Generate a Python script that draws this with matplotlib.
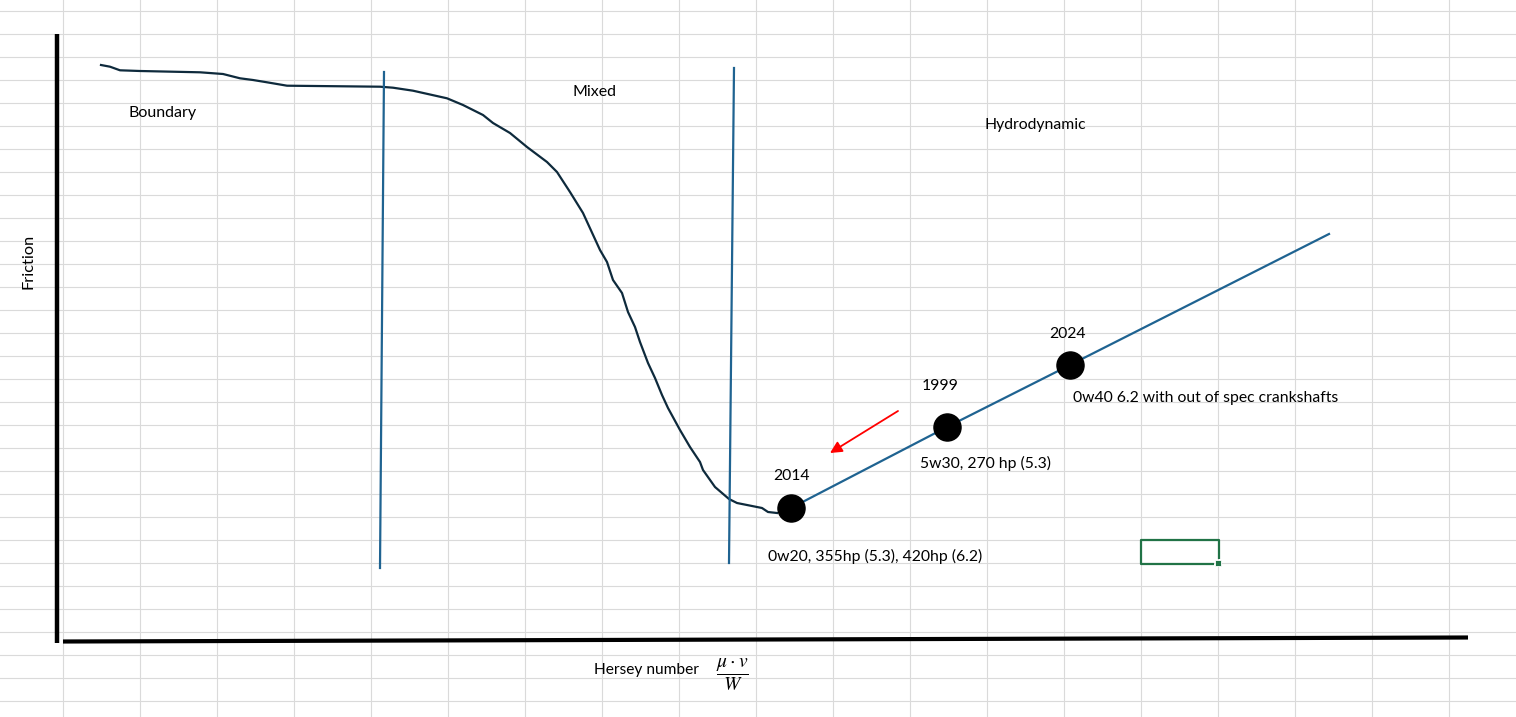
import numpy as np
import matplotlib
matplotlib.use("Agg")
import matplotlib.pyplot as plt
from matplotlib.patches import Rectangle, FancyArrowPatch

plt.rcParams['font.family'] = ['Lato', 'DejaVu Sans']
plt.rcParams['mathtext.fontset'] = 'stix'

# ---- data (in sheet pixel units; y grows downward) ----
# Stribeck-style friction curve
curve_x = [101, 110, 120, 140, 200, 223, 240, 253, 267, 287, 380, 393, 413, 447,
           463, 483, 493, 510, 527, 547, 557, 570, 583, 600, 607, 613, 622, 628,
           635, 640, 648, 655, 662, 668, 680, 690, 700, 703, 715, 729, 737, 762,
           768, 777]
curve_y = [65, 66.7, 70.3, 71, 72.3, 74, 78.3, 80, 82.3, 85.7, 86.7, 87.7, 90.7, 98.3,
           105, 115, 123, 133, 147, 162, 172, 192, 213, 250, 262, 280, 293, 312,
           327, 342, 363, 378, 395, 408, 430, 447, 462, 470, 487, 499, 503, 508,
           512, 513]

# regime divider lines
divider_x_top = [384, 734]
divider_y_top = [72, 68]
divider_x_bot = [380, 729]
divider_y_bot = [568, 563]

# hydrodynamic trend line and the three oil points
trend_x = [791, 947, 1070, 1329]
trend_y = [508, 427, 365, 234]
point_years = ["2014", "1999", "2024"]
point_x = [791, 947, 1070]
point_y = [508, 427, 365]
point_notes = ["0w20, 355hp (5.3), 420hp (6.2)", "5w30, 270 hp (5.3)",
               "0w40 6.2 with out of spec crankshafts"]

region_labels = ["Boundary", "Mixed", "Hydrodynamic"]

# ---- figure ----
W, H = 1516, 717
fig = plt.figure(figsize=(W / 100, H / 100), dpi=100)
ax = fig.add_axes([0, 0, 1, 1])
ax.set_xlim(0, W)
ax.set_ylim(H, 0)
ax.axis('off')

# spreadsheet grid
grid_c = '#dadada'
for gx in np.arange(63.3, W, 77):
    ax.axvline(gx, color=grid_c, lw=0.8, zorder=0)
for gy in np.arange(11.3, H, 23):
    ax.axhline(gy, color=grid_c, lw=0.8, zorder=0)

# axes drawn as thick black lines
ax.plot([57, 57], [34, 643], color='black', lw=3.2, solid_capstyle='butt', zorder=3)
ax.plot([63, 1468], [641.5, 637.5], color='black', lw=3.0, solid_capstyle='butt', zorder=3)

# friction curve
ax.plot(curve_x, curve_y, color='#0e2a3c', lw=1.6, zorder=4)

# dividers
blue = '#1f6391'
for xt, yt, xb, yb in zip(divider_x_top, divider_y_top, divider_x_bot, divider_y_bot):
    ax.plot([xt, xb], [yt, yb], color=blue, lw=1.6, zorder=4)

# trend line
ax.plot(trend_x, trend_y, color=blue, lw=1.6, zorder=4)

# points
ax.plot(point_x, point_y, 'o', color='black', ms=19.5, zorder=6)

# red arrow
arr = FancyArrowPatch((898, 411), (830, 453), arrowstyle='-|>,head_length=7,head_width=3.5',
                      color='#ff0000', lw=1.3, zorder=6, shrinkA=0, shrinkB=0)
ax.add_patch(arr)

txt = dict(color='black', zorder=7)
# region labels
ax.text(163, 113, region_labels[0], fontsize=11.5, ha='center', va='center', **txt)
ax.text(594, 92, region_labels[1], fontsize=11.5, ha='center', va='center', **txt)
ax.text(1035, 125, region_labels[2], fontsize=11.3, ha='center', va='center', **txt)

# year labels
ax.text(791, 476, point_years[0], fontsize=11.3, ha='center', va='center', **txt)
ax.text(940, 386, point_years[1], fontsize=11.3, ha='center', va='center', **txt)
ax.text(1067, 334, point_years[2], fontsize=11.3, ha='center', va='center', **txt)

# notes
ax.text(768, 556, point_notes[0], fontsize=11.3, ha='left', va='center', **txt)
ax.text(920, 463, point_notes[1], fontsize=11.3, ha='left', va='center', **txt)
ax.text(1073, 398, point_notes[2], fontsize=11.3, ha='left', va='center', **txt)

# axis titles
ax.text(29, 261, "Friction", fontsize=11.8, rotation=90, ha='center', va='center', **txt)
ax.text(646, 670, "Hersey number", fontsize=11.2, ha='center', va='center', **txt)
ax.text(732, 675, r'$\dfrac{\mu \cdot v}{W}$', fontsize=14, ha='center', va='center', **txt)

# selected cell (green)
green = '#217346'
ax.plot([1214, 1141, 1141, 1219, 1219], [563.5, 563.5, 540, 540, 559],
        color=green, lw=1.6, zorder=5, solid_capstyle='butt')
ax.add_patch(Rectangle((1215, 560), 6, 6, facecolor=green, edgecolor='white', lw=0.6, zorder=6))

fig.savefig('out.png', dpi=100)
